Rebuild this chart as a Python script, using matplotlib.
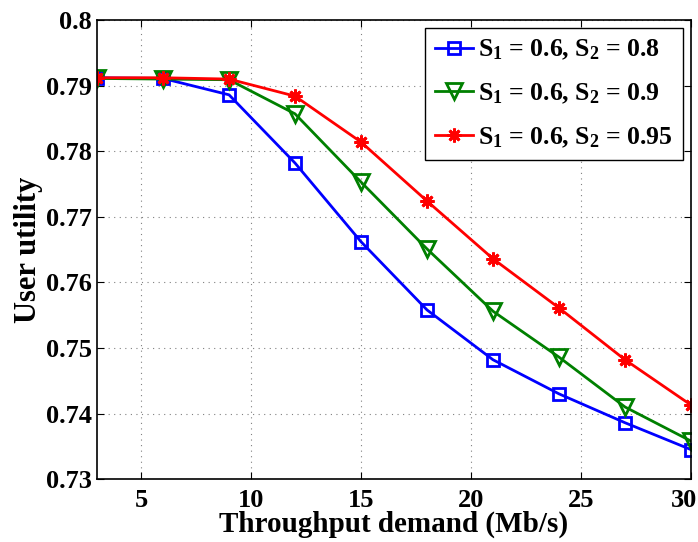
import matplotlib
matplotlib.use("Agg")
import matplotlib.pyplot as plt
import matplotlib.transforms as mtransforms

# Daten
demand = [3, 6, 9, 12, 15, 18, 21, 24, 27, 30]
util_s2_08 = [0.7912, 0.7911, 0.7886, 0.7782, 0.7662, 0.7558, 0.7482, 0.7430, 0.7386, 0.7345]
util_s2_09 = [0.7911, 0.7910, 0.7909, 0.7857, 0.7753, 0.7651, 0.7556, 0.7486, 0.7410, 0.7358]
util_s2_095 = [0.7912, 0.7912, 0.7910, 0.7884, 0.7814, 0.7724, 0.7636, 0.7561, 0.7482, 0.7413]
labels = [r"S$_1$ = 0.6, S$_2$ = 0.8",
          r"S$_1$ = 0.6, S$_2$ = 0.9",
          r"S$_1$ = 0.6, S$_2$ = 0.95"]
xticks = [5, 10, 15, 20, 25, 30]
yticks = [0.73, 0.74, 0.75, 0.76, 0.77, 0.78, 0.79, 0.8]
ytick_labels = ["0.73", "0.74", "0.75", "0.76", "0.77", "0.78", "0.79", "0.8"]

plt.rcParams["font.family"] = "Liberation Serif"
plt.rcParams["font.weight"] = "bold"
plt.rcParams["mathtext.fontset"] = "custom"
plt.rcParams["mathtext.rm"] = "Liberation Serif:bold"
plt.rcParams["mathtext.it"] = "Liberation Serif:bold"
plt.rcParams["mathtext.bf"] = "Liberation Serif:bold"

fig = plt.figure(figsize=(6.98, 5.42), dpi=100)
ax = fig.add_axes([0.139, 0.116, 0.851, 0.847])

ax.plot(demand, util_s2_08, "-", color="blue", lw=2, marker="s", ms=8,
        mfc="none", mew=2, label=labels[0])
ax.plot(demand, util_s2_09, "-", color="green", lw=2, marker="v", ms=11,
        mfc="none", mew=2, label=labels[1])
ax.plot(demand, util_s2_095, "-", color="red", lw=2, marker=(8, 2, 0), ms=10,
        mew=2, label=labels[2])

ax.set_xlim(3, 30)
ax.set_ylim(0.73, 0.8)
ax.set_xticks(xticks)
ax.set_yticks(yticks)
ax.set_yticklabels(ytick_labels)
ax.tick_params(direction="in", top=True, right=True, labelsize=19, length=5)
ax.tick_params(axis="x", pad=7)
ax.grid(True, linestyle=(0, (1, 4)), color="gray", lw=0.8)
for s in ax.spines.values():
    s.set_linewidth(1.2)

# letzte x-Beschriftung etwas nach links, damit sie nicht abgeschnitten wird
last = ax.get_xticklabels()[-1]
last.set_transform(last.get_transform() +
                   mtransforms.ScaledTranslation(-0.07, 0, fig.dpi_scale_trans))

ax.set_xlabel("Throughput demand (Mb/s)", fontsize=21, fontweight="bold", labelpad=-1)
ax.set_ylabel("User utility", fontsize=22, fontweight="bold", labelpad=2)

leg = ax.legend(loc="upper right", fontsize=18.5, frameon=True, fancybox=False,
                edgecolor="black", framealpha=1, handlelength=1.5,
                borderaxespad=0.3, labelspacing=0.75, handletextpad=0.2,
                borderpad=0.4)
leg.get_frame().set_linewidth(1.0)

fig.savefig("out.png", dpi=100)
